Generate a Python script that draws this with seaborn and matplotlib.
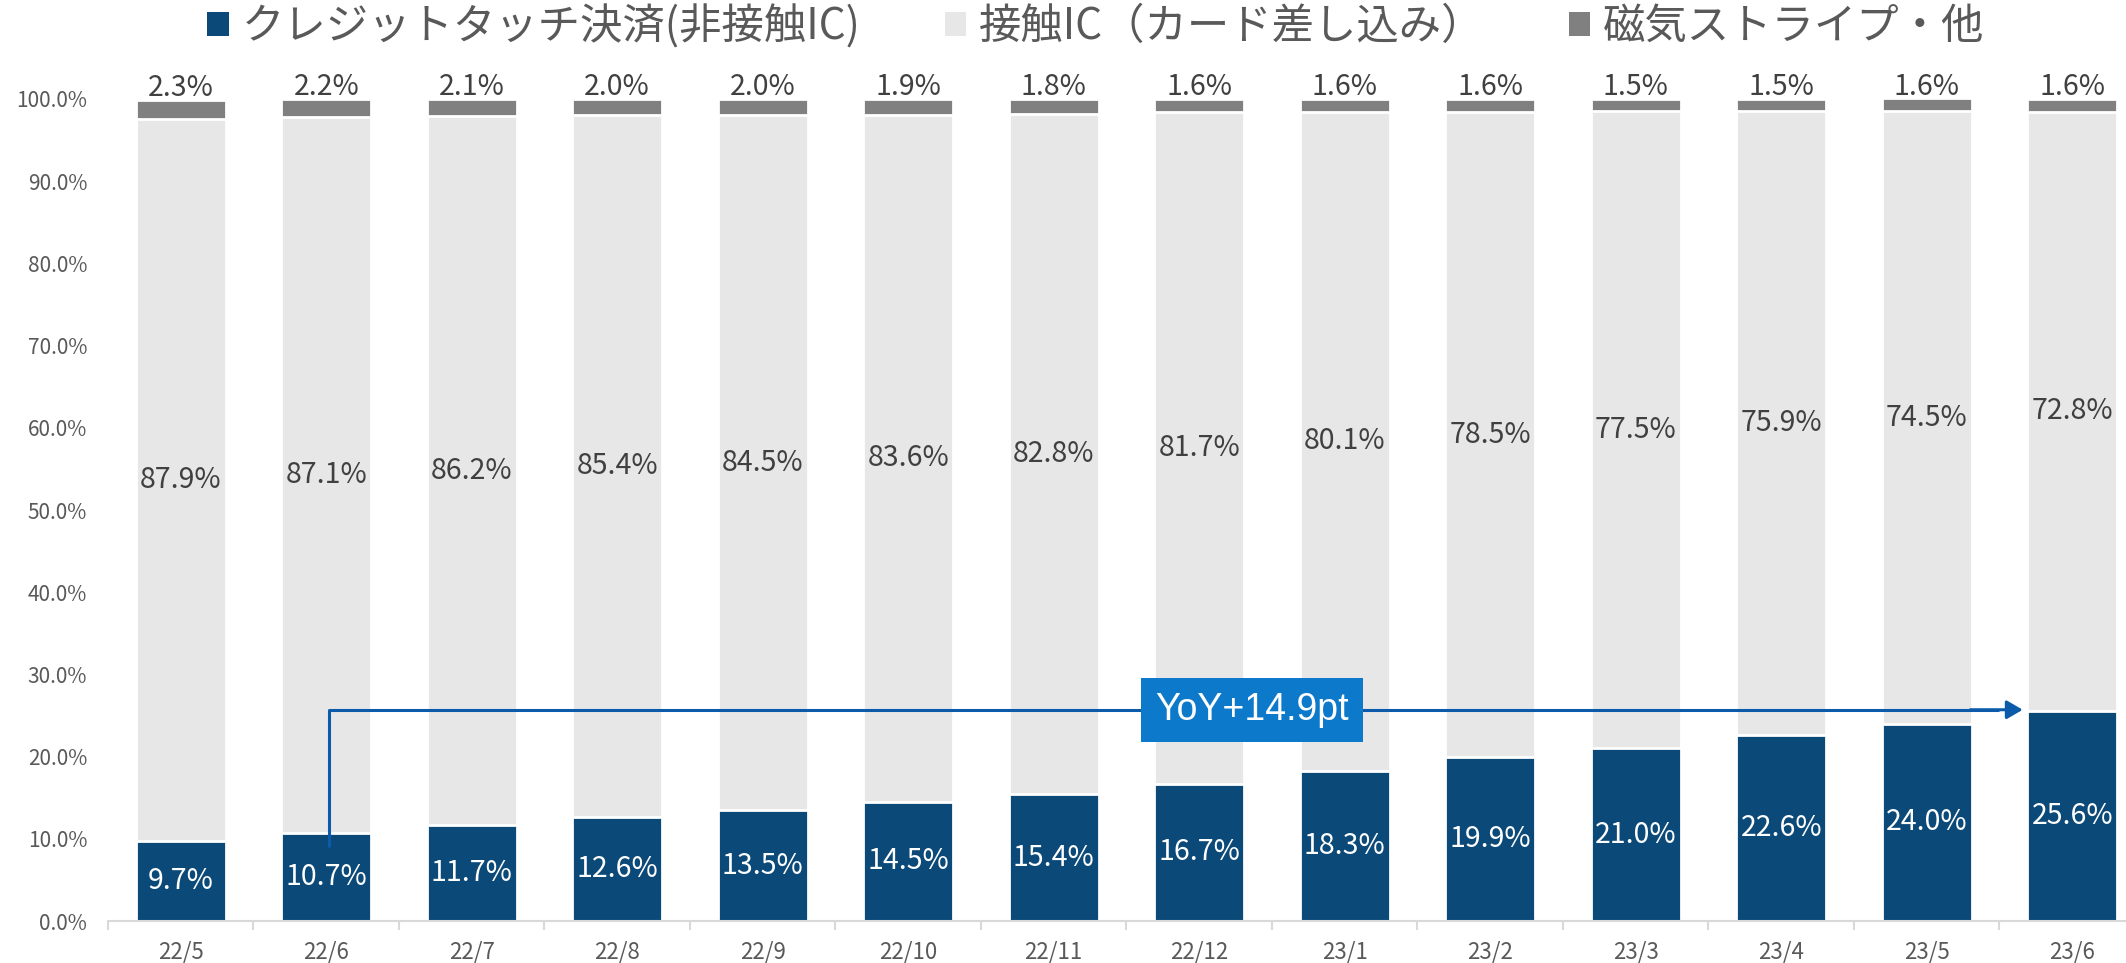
import numpy as np
import pandas as pd
import seaborn as sns
import matplotlib.pyplot as plt
from matplotlib.patches import Patch
from matplotlib.ticker import PercentFormatter, FixedLocator

months = ['22/5', '22/6', '22/7', '22/8', '22/9', '22/10', '22/11', '22/12',
          '23/1', '23/2', '23/3', '23/4', '23/5', '23/6']
touch = [9.7, 10.7, 11.7, 12.6, 13.5, 14.5, 15.4, 16.7, 18.3, 19.9, 21.0, 22.6, 24.0, 25.6]
contact_ic = [87.9, 87.1, 86.2, 85.4, 84.5, 83.6, 82.8, 81.7, 80.1, 78.5, 77.5, 75.9, 74.5, 72.8]
magstripe = [2.3, 2.2, 2.1, 2.0, 2.0, 1.9, 1.8, 1.6, 1.6, 1.6, 1.5, 1.5, 1.6, 1.6]
series_names = ['クレジットタッチ決済(非接触IC)', '接触IC（カード差し込み）', '磁気ストライプ・他']
yoy_label = 'YoY+14.9pt'

BLUE = '#0B4978'
LIGHT = '#E7E7E7'
DARK = '#808080'
TXT = '#404040'

sns.set_style('white')
plt.rcParams['font.family'] = ['Noto Sans CJK JP', 'DejaVu Sans']

df = pd.DataFrame({'month': months,
                   'touch': np.array(touch) / 100,
                   'ic': np.array(contact_ic) / 100,
                   'mag': np.array(magstripe) / 100})
# cumulative heights, drawn tallest first so they stack visually
df['cum_ic'] = df['touch'] + df['ic']
df['cum_all'] = df['cum_ic'] + df['mag']

fig = plt.figure(figsize=(21.26, 9.63), dpi=100)
ax = fig.add_axes([0.0508, 0.0436, 0.9581, 0.8536])

bar_kw = dict(width=0.62, edgecolor='white', linewidth=2, ax=ax)
sns.barplot(data=df, x='month', y='cum_all', color=DARK, saturation=1, **bar_kw)
sns.barplot(data=df, x='month', y='cum_ic', color=LIGHT, saturation=1, **bar_kw)
sns.barplot(data=df, x='month', y='touch', color=BLUE, saturation=1, **bar_kw)

# segment labels
for i, r in df.iterrows():
    ax.text(i, r['touch'] / 2, f"{r['touch']*100:.1f}%", ha='center', va='center',
            color='white', fontsize=20.5)
    ax.text(i, r['touch'] + r['ic'] / 2, f"{r['ic']*100:.1f}%", ha='center', va='center',
            color=TXT, fontsize=20.5)
    ax.text(i, r['cum_all'] + 0.014, f"{r['mag']*100:.1f}%", ha='center', va='center',
            color=TXT, fontsize=20.5, clip_on=False)

ax.set_xlim(-0.5, len(months) - 0.5)
ax.set_ylim(0, 1.0)
ax.set_yticks(np.arange(0, 1.01, 0.1))
ax.yaxis.set_major_formatter(PercentFormatter(1.0, decimals=1))
ax.set_xlabel('')
ax.set_ylabel('')

for s in ['top', 'right', 'left']:
    ax.spines[s].set_visible(False)
ax.spines['bottom'].set_color('#D9D9D9')
ax.spines['bottom'].set_linewidth(1.5)

ax.tick_params(axis='y', length=0, pad=15, labelsize=15, labelcolor='#595959')
ax.tick_params(axis='x', which='major', length=0, pad=14, labelsize=16, labelcolor='#595959')
ax.xaxis.set_minor_locator(FixedLocator(np.arange(-0.5, len(months), 1.0)))
ax.tick_params(axis='x', which='minor', length=6.5, width=1.5, color='#D9D9D9', bottom=True)
ax.grid(False)

# YoY arrow annotation
y_arrow = 0.257
ax.plot([1.02, 1.02, 12.5], [0.09, y_arrow, y_arrow], color='#0B5BAA', lw=2.2,
        solid_capstyle='butt', zorder=5)
ax.annotate('', xy=(12.66, y_arrow), xytext=(12.3, y_arrow),
            arrowprops=dict(arrowstyle='-|>,head_length=0.6,head_width=0.35',
                            mutation_scale=16, color='#0B5BAA', lw=2.2,
                            shrinkA=0, shrinkB=0), zorder=5)
ax.text(7.36, y_arrow, yoy_label, ha='center', va='center', color='white', fontsize=27,
        family='Liberation Sans', zorder=6,
        bbox=dict(boxstyle='square,pad=0.38', fc='#0D79CB', ec='none'))

handles = [Patch(facecolor=c, edgecolor='none') for c in (BLUE, LIGHT, DARK)]
fig.legend(handles, series_names, loc='center', bbox_to_anchor=(0.5155, 0.972), ncol=3,
           frameon=False, fontsize=30.5, labelcolor='#595959', handlelength=0.5,
           handleheight=0.5, handletextpad=0.3, columnspacing=2.0)

fig.savefig('out.png', dpi=100)
